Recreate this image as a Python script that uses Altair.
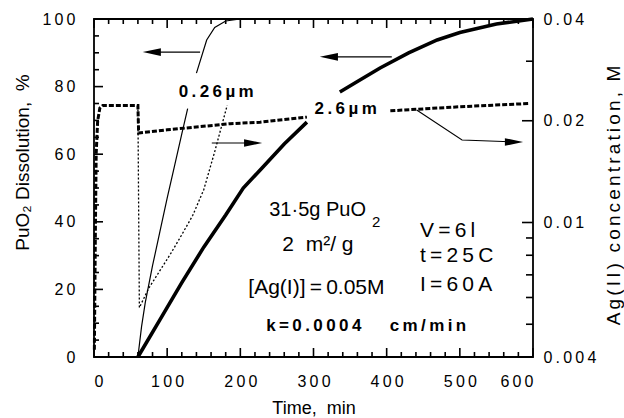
import altair as alt
import pandas as pd

FONT = "Liberation Sans"
W, H = 439, 338
TS = "\u2009"   # thin space: the original typesetting is widely tracked
SS = "\u2006"   # six-per-em space
NB = "\u00a0"

# ---- data ----
# 0.26 um dissolution (thin solid), % vs min
fine_t = [60, 65, 70, 80, 90, 100, 110, 120, 128, 140, 154, 165, 180, 200]
fine_p = [0, 9, 16, 27, 37, 47, 56.5, 66, 73.5, 84, 93.8, 97.5, 99.4, 100]
fine_seg = [0, 0, 0, 0, 0, 0, 0, 0, 0, 1, 1, 1, 1, 1]

# 2.6 um dissolution (thick solid), % vs min
coarse_t = [60, 90, 120, 150, 180, 204, 230, 260, 291, 336, 360, 391, 430, 469, 500, 550, 600]
coarse_p = [0, 11, 22, 32.5, 42, 50, 56, 63, 69.5, 78.4, 81.5, 85.5, 90, 93.8, 96, 98.5, 100]
coarse_seg = [0, 0, 0, 0, 0, 0, 0, 0, 0, 1, 1, 1, 1, 1, 1, 1, 1]

# Ag(II) concentration, 2.6 um run (thick dashed), M vs min
ag_coarse_t = [0.5, 2, 3, 5, 8, 12, 60, 61, 100, 186, 227, 291, 405, 500, 596]
ag_coarse_m = [0.0042, 0.010, 0.016, 0.020, 0.0218, 0.0222, 0.0222, 0.0184, 0.0188,
               0.0196, 0.0198, 0.0205, 0.0214, 0.0220, 0.0225]
ag_coarse_seg = [0, 0, 0, 0, 0, 0, 0, 0, 0, 0, 0, 0, 1, 1, 1]

# Ag(II) concentration, 0.26 um run (thin dotted), M vs min
ag_fine_t = [60, 62, 75, 90, 105, 120, 135, 150, 165, 175, 182]
ag_fine_m = [0.0222, 0.0056, 0.0064, 0.0072, 0.0081, 0.0092, 0.0105, 0.0125, 0.0162, 0.0195, 0.0222]

# axis ticks and labels
x_major = [0, 100, 200, 300, 400, 500, 600]
x_minor = [v for v in range(20, 600, 20) if v % 100]
yl_major = [0, 20, 40, 60, 80, 100]
yl_minor = [v for v in range(5, 100, 5) if v % 20]
yr_labels = [0.004, 0.01, 0.02, 0.04]
yr_label_text = ["0.004", "0.01", "0.02", "0.04"]
yr_major = [0.01, 0.02]
yr_minor = [0.005, 0.006, 0.007, 0.008, 0.009, 0.03]

# annotations (time, percent)
arrow_id = ["a", "a", "b", "b", "c", "c", "d", "d", "d"]
arrow_t = [145, 75, 407, 318, 161, 222, 441, 503, 578]
arrow_p = [90.2, 90.2, 88.8, 88.8, 63.3, 63.3, 73.1, 64.2, 63.6]
arrow_ord = [0, 1, 0, 1, 0, 1, 0, 1, 2]
head_left_t = [79, 321]
head_left_p = [90.2, 88.8]
head_right_t = [217.5, 574]
head_right_p = [63.3, 63.6]


def spaced(s, sep=TS):
    return sep.join(list(s))


bold_text = [spaced("0.26\u00b5m"), spaced("2.6\u00b5m"),
             spaced("k=0.0004") + NB * 6 + spaced("cm/min")]
bold_t = [167, 344, 372]
bold_p = [78.3, 73.5, 9.2]
main_text = ["31\u00b75g PuO"]
main_t = [371.7]
main_p = [43.6]
sub_text = ["2"]
sub_t = [379.8]
sub_p = [39.9]
center_text = ["2" + NB + NB + "m\u00b2/ g", "[Ag(I)]" + TS + "=" + TS + "0.05M"]
center_t = [306, 304]
center_p = [33.2, 20.4]
left_text = [spaced("V=6l"), spaced("t=25C"), spaced("I=60A")]
left_t = [445.5, 445.5, 445.5]
left_p = [37.4, 29.9, 21.3]

# ---- scales & axes ----
X_DOM = [0, 600]
YL_DOM = [0, 100]
YR_DOM = [0.004, 0.04]
xscale = alt.Scale(domain=X_DOM, nice=False, zero=False)
ylscale = alt.Scale(domain=YL_DOM, nice=False, zero=False)
yrscale = alt.Scale(type="log", domain=YR_DOM, nice=False)


def label_expr(values, texts):
    expr = "datum.label"
    for v, t in zip(values, texts):
        expr = f"datum.value == {v} ? '{spaced(t)}' : ({expr})"
    return expr


no_ticks = dict(ticks=False, tickSize=0, domain=False, grid=False)
xaxis = alt.Axis(values=x_major, labelExpr=label_expr(x_major, [str(v) for v in x_major]),
                 labelFont=FONT, labelFontSize=16, labelPadding=16, labelColor="black",
                 title="Time," + NB + NB + "min", titleFont=FONT, titleFontSize=18,
                 titleFontWeight="normal", titleColor="black",
                 titleY=51, titleBaseline="middle", **no_ticks)
ylaxis = alt.Axis(values=yl_major, labelExpr=label_expr(yl_major, [str(v) for v in yl_major]),
                  labelFont=FONT, labelFontSize=16, labelPadding=19, labelColor="black",
                  title="PuO\u2082 Dissolution," + NB + NB + "%", titleFont=FONT, titleFontSize=19,
                  titleFontWeight="normal", titleColor="black",
                  titleX=-72, titleY=143, titleBaseline="middle", titleAngle=270, **no_ticks)
yraxis = alt.Axis(values=yr_labels, orient="right",
                  labelExpr=label_expr(yr_labels, yr_label_text),
                  labelFont=FONT, labelFontSize=16, labelPadding=10, labelColor="black",
                  title=spaced("Ag(II)", SS) + NB + NB + spaced("concentration,", SS) + NB + NB + "M",
                  titleFont=FONT, titleFontSize=19, titleFontWeight="normal", titleColor="black",
                  titleX=80, titleY=176, titleBaseline="middle", titleAngle=270, **no_ticks)


def X(field="t"):
    return alt.X(f"{field}:Q", scale=xscale, axis=xaxis)


def X2(field="t2"):
    return alt.X2(f"{field}")


def YL(field="p"):
    return alt.Y(f"{field}:Q", scale=ylscale, axis=ylaxis)


def YR(field="m"):
    return alt.Y(f"{field}:Q", scale=yrscale, axis=yraxis)


# ---- inward tick marks as thin filled rectangles (frame edge -> inward by tick length) ----
PX_T = (X_DOM[1] - X_DOM[0]) / W     # minutes per pixel
PX_P = (YL_DOM[1] - YL_DOM[0]) / H   # percent per pixel
TW = 1.6                              # tick stroke width in pixels

left_rect_rows = []
for vals, ln in ((x_major, 9), (x_minor, 5)):
    for v in vals:
        t0, t1 = v - TW / 2 * PX_T, v + TW / 2 * PX_T
        left_rect_rows.append({"t": t0, "t2": t1, "p": YL_DOM[0], "p2": YL_DOM[0] + ln * PX_P})
        left_rect_rows.append({"t": t0, "t2": t1, "p": YL_DOM[1] - ln * PX_P, "p2": YL_DOM[1]})
for vals, ln in ((yl_major, 9), (yl_minor, 5)):
    for v in vals:
        left_rect_rows.append({"t": X_DOM[0], "t2": X_DOM[0] + ln * PX_T,
                               "p": v - TW / 2 * PX_P, "p2": v + TW / 2 * PX_P})

# right (log) axis: half-width in log space converted from pixels
import math
LOG_SPAN = math.log10(YR_DOM[1]) - math.log10(YR_DOM[0])
right_rect_rows = []
for vals, ln in ((yr_major, 11), (yr_minor, 7)):
    for v in vals:
        f = 10 ** (TW / 2 / H * LOG_SPAN)
        right_rect_rows.append({"t": X_DOM[1] - ln * PX_T, "t2": X_DOM[1],
                                "m": v / f, "m2": v * f})

# ---- tables ----
fine = pd.DataFrame({"t": fine_t, "p": fine_p, "seg": fine_seg})
coarse = pd.DataFrame({"t": coarse_t, "p": coarse_p, "seg": coarse_seg})
agc = pd.DataFrame({"t": ag_coarse_t, "m": ag_coarse_m, "seg": ag_coarse_seg})
agf = pd.DataFrame({"t": ag_fine_t, "m": ag_fine_m})
arrows = pd.DataFrame({"id": arrow_id, "t": arrow_t, "p": arrow_p, "o": arrow_ord})
ticks_l = pd.DataFrame(left_rect_rows)
ticks_r = pd.DataFrame(right_rect_rows)

fine_line = alt.Chart(fine).mark_line(color="black", strokeWidth=1.2).encode(
    x=X(), y=YL(), detail="seg:N")
coarse_line = alt.Chart(coarse).mark_line(color="black", strokeWidth=3.6).encode(
    x=X(), y=YL(), detail="seg:N")
arrow_lines = alt.Chart(arrows).mark_line(color="black", strokeWidth=1.1).encode(
    x=X(), y=YL(), detail="id:N", order="o:Q")
tick_rects = alt.Chart(ticks_l).mark_rect(color="black", opacity=1).encode(
    x=X(), x2=alt.X2("t2"), y=YL(), y2=alt.Y2("p2"))
hl = alt.Chart(pd.DataFrame({"t": head_left_t, "p": head_left_p})).mark_point(
    shape="M -1 0 L 1 -0.42 L 1 0.42 Z", filled=True, color="black", opacity=1, size=330,
    strokeWidth=0).encode(x=X(), y=YL())
hr = alt.Chart(pd.DataFrame({"t": head_right_t, "p": head_right_p})).mark_point(
    shape="M 1 0 L -1 -0.42 L -1 0.42 Z", filled=True, color="black", opacity=1, size=330,
    strokeWidth=0).encode(x=X(), y=YL())


def texts(labels, ts, ps, size, weight="normal", align="center"):
    df = pd.DataFrame({"label": labels, "t": ts, "p": ps})
    return alt.Chart(df).mark_text(font=FONT, fontSize=size, fontWeight=weight, align=align,
                                   baseline="middle", color="black").encode(
        x=X(), y=YL(), text="label:N")


text_layers = [texts(bold_text, bold_t, bold_p, 17, "bold"),
               texts(main_text, main_t, main_p, 20, align="right"),
               texts(sub_text, sub_t, sub_p, 15, align="left"),
               texts(center_text, center_t, center_p, 21),
               texts(left_text, left_t, left_p, 21, align="left")]

left = alt.layer(fine_line, coarse_line, arrow_lines, tick_rects, hl, hr, *text_layers)

agc_line = alt.Chart(agc).mark_line(color="black", strokeWidth=3, strokeDash=[5, 2]).encode(
    x=X(), y=YR(), detail="seg:N")
agf_line = alt.Chart(agf).mark_line(color="black", strokeWidth=1.3, strokeDash=[2, 2]).encode(
    x=X(), y=YR())
rtick_rects = alt.Chart(ticks_r).mark_rect(color="black", opacity=1).encode(
    x=X(), x2=alt.X2("t2"), y=YR(), y2=alt.Y2("m2"))

right = alt.layer(agc_line, agf_line, rtick_rects)

chart = alt.layer(left, right).resolve_scale(y="independent").properties(
    width=W, height=H, autosize="none",
    padding={"left": 94, "top": 19, "right": 91, "bottom": 61},
    background="white",
).configure_view(stroke="black", strokeWidth=1.8)

chart.save("out.html", embed_options={"renderer": "svg", "actions": False})
